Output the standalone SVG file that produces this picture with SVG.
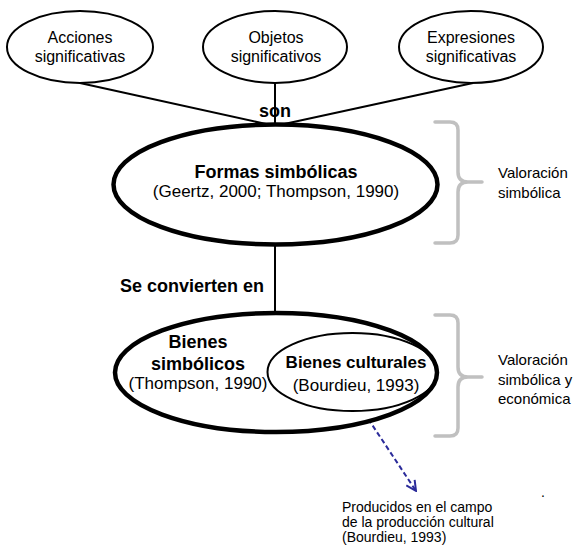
<svg xmlns="http://www.w3.org/2000/svg" width="577" height="546" viewBox="0 0 577 546">
<defs>
<style>
text{font-family:"Liberation Sans",Arial,sans-serif;fill:#000}
.sm{font-size:16px;text-anchor:middle}
.b{font-size:18px;font-weight:bold;text-anchor:middle}
.r{font-size:17px;text-anchor:middle}
.side{font-size:15px}
.note{font-size:14px}
.thin{fill:#fff;stroke:#000;stroke-width:2}
.thick{fill:#fff;stroke:#000;stroke-width:4.5}
.line{stroke:#000;stroke-width:2;fill:none}
.brace{fill:none;stroke:#c0c0c0;stroke-width:3.5;stroke-linecap:round;stroke-linejoin:round}
.dash{stroke:#2b2b9a;stroke-width:2;stroke-dasharray:5,3;fill:none}
</style>
<marker id="open" viewBox="0 0 12 12" refX="11" refY="6" markerWidth="12" markerHeight="12" markerUnits="userSpaceOnUse" orient="auto">
<path d="M1,1 L11,6 L1,11" fill="none" stroke="#2b2b9a" stroke-width="2"/>
</marker>
</defs>
<rect width="577" height="546" fill="#fff"/>
<g id="connectors">
<line class="line" x1="80" y1="83" x2="275" y2="126"/>
<line class="line" x1="473" y1="83" x2="275" y2="126"/>
<text class="b" x="275" y="117">son</text>
<line class="line" x1="275" y1="83" x2="275" y2="126"/>
<line class="line" x1="275" y1="244" x2="275" y2="314"/>
<text style="font-size:18px;font-weight:bold" x="120" y="292">Se convierten en</text>
<line class="dash" x1="355" y1="399" x2="416" y2="491" marker-end="url(#open)"/>
</g>
<g id="acciones">
<ellipse class="thin" cx="80" cy="47" rx="73" ry="36"/>
<text class="sm" x="80" y="43">Acciones</text>
<text class="sm" x="80" y="62">significativas</text>
</g>
<g id="objetos">
<ellipse class="thin" cx="275" cy="47" rx="72" ry="36"/>
<text class="sm" x="276" y="43">Objetos</text>
<text class="sm" x="276" y="62">significativos</text>
</g>
<g id="expresiones">
<ellipse class="thin" cx="471" cy="47" rx="72" ry="36"/>
<text class="sm" x="471" y="43">Expresiones</text>
<text class="sm" x="471" y="62">significativas</text>
</g>
<g id="formas">
<ellipse class="thick" cx="275.5" cy="184.5" rx="162" ry="60"/>
<text class="b" x="276" y="178">Formas simbólicas</text>
<text class="r" x="276" y="197">(Geertz, 2000; Thompson, 1990)</text>
</g>
<g id="bienes-simbolicos">
<ellipse class="thick" cx="276" cy="372.5" rx="161" ry="59.5"/>
<text class="b" x="198" y="348">Bienes</text>
<text class="b" x="198" y="370">simbólicos</text>
<text class="r" x="198" y="389">(Thompson, 1990)</text>
</g>
<g id="bienes-culturales">
<ellipse cx="352.5" cy="372" rx="85" ry="39" fill="none" stroke="#000" stroke-width="2"/>
<text style="font-size:17px;font-weight:bold;text-anchor:middle" x="356" y="368">Bienes culturales</text>
<text class="r" x="356" y="391">(Bourdieu, 1993)</text>
</g>
<g id="valoracion-simbolica">
<path class="brace" d="M435,122 H450 Q458,122 458,130 V172 Q458,182 468,182 H482 M468,182 Q458,182 458,192 V235 Q458,243 450,243 H435"/>
<text class="side" x="498" y="178">Valoración</text>
<text class="side" x="498" y="198">simbólica</text>
</g>
<g id="valoracion-economica">
<path class="brace" d="M435,315 H450 Q458,315 458,323 V367 Q458,377 468,377 H482 M468,377 Q458,377 458,387 V428 Q458,436 450,436 H435"/>
<text class="side" x="498" y="365">Valoración</text>
<text class="side" x="498" y="385">simbólica y</text>
<text class="side" x="498" y="404">económica</text>
</g>
<g id="producidos">
<text class="note" x="342" y="512">Producidos en el campo</text>
<text class="note" x="342" y="527">de la producción cultural</text>
<text class="note" x="342" y="542">(Bourdieu, 1993)</text>
<text class="note" x="541" y="497">.</text>
</g>
</svg>
